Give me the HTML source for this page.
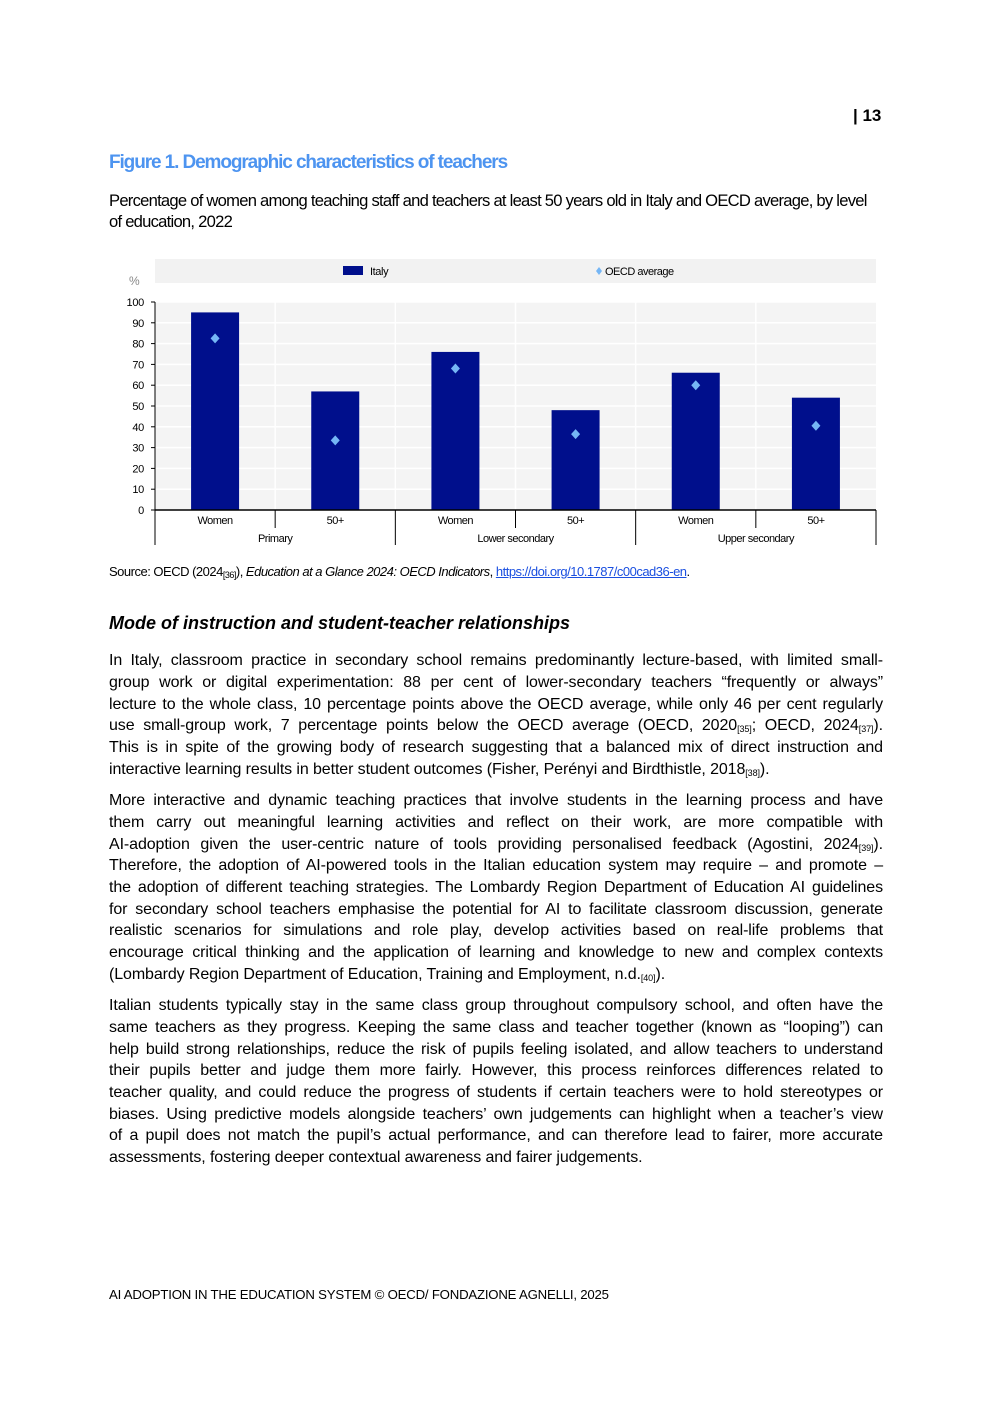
<!DOCTYPE html>
<html><head><meta charset="utf-8">
<style>
body{margin:0;background:#fff;}
#page{position:relative;width:992px;height:1403px;background:#fff;font-family:"Liberation Sans",Arial,sans-serif;color:#000;overflow:hidden;}
.abs{position:absolute;}
.ln{position:absolute;left:109px;width:774px;font-size:16px;line-height:20px;white-space:nowrap;letter-spacing:-0.1px;}
.j{text-align:justify;text-align-last:justify;white-space:normal;}
sub{font-size:9px;vertical-align:-2px;line-height:0;}
</style></head><body>
<div id="page">
<div class="abs" style="left:853px;top:106px;font-size:17px;font-weight:bold;">| 13</div>
<div class="abs" style="left:109px;top:152px;font-size:19px;font-weight:bold;color:#4d94f0;letter-spacing:-1.1px;">Figure 1. Demographic characteristics of teachers</div>
<div class="abs" style="left:109px;top:190px;width:790px;font-size:16.6px;line-height:21px;letter-spacing:-0.75px;">Percentage of women among teaching staff and teachers at least 50 years old in Italy and OECD average, by level<br>of education, 2022</div>

<svg class="abs" style="left:0;top:0" width="992" height="560" id="chart" font-family="Liberation Sans, Arial, sans-serif"></svg>

<div class="abs" style="left:109px;top:564px;font-size:13px;letter-spacing:-0.5px;">Source: OECD (2024<sub>[36]</sub>), <i>Education at a Glance 2024: OECD Indicators</i>, <a style="color:#1a4fe0;text-decoration:underline;">https://doi.org/10.1787/c00cad36-en</a>.</div>
<div class="abs" style="left:109px;top:613px;font-size:18px;font-weight:bold;font-style:italic;letter-spacing:0px;">Mode of instruction and student-teacher relationships</div>

<div>
<div class="ln j" style="top:651px">In Italy, classroom practice in secondary school remains predominantly lecture-based, with limited small-</div>
<div class="ln j" style="top:673px">group work or digital experimentation: 88 per cent of lower-secondary teachers “frequently or always”</div>
<div class="ln j" style="top:695px">lecture to the whole class, 10 percentage points above the OECD average, while only 46 per cent regularly</div>
<div class="ln j" style="top:716px">use small-group work, 7 percentage points below the OECD average (OECD, 2020<sub>[35]</sub>; OECD, 2024<sub>[37]</sub>).</div>
<div class="ln j" style="top:738px">This is in spite of the growing body of research suggesting that a balanced mix of direct instruction and</div>
<div class="ln" style="top:760px">interactive learning results in better student outcomes (Fisher, Perényi and Birdthistle, 2018<sub>[38]</sub>).</div>
</div>
<div>
<div class="ln j" style="top:791px">More interactive and dynamic teaching practices that involve students in the learning process and have</div>
<div class="ln j" style="top:813px">them carry out meaningful learning activities and reflect on their work, are more compatible with</div>
<div class="ln j" style="top:835px">AI-adoption given the user-centric nature of tools providing personalised feedback (Agostini, 2024<sub>[39]</sub>).</div>
<div class="ln j" style="top:856px">Therefore, the adoption of AI-powered tools in the Italian education system may require – and promote –</div>
<div class="ln j" style="top:878px">the adoption of different teaching strategies. The Lombardy Region Department of Education AI guidelines</div>
<div class="ln j" style="top:900px">for secondary school teachers emphasise the potential for AI to facilitate classroom discussion, generate</div>
<div class="ln j" style="top:921px">realistic scenarios for simulations and role play, develop activities based on real-life problems that</div>
<div class="ln j" style="top:943px">encourage critical thinking and the application of learning and knowledge to new and complex contexts</div>
<div class="ln" style="top:965px">(Lombardy Region Department of Education, Training and Employment, n.d.<sub>[40]</sub>).</div>
</div>
<div>
<div class="ln j" style="top:996px">Italian students typically stay in the same class group throughout compulsory school, and often have the</div>
<div class="ln j" style="top:1018px">same teachers as they progress. Keeping the same class and teacher together (known as “looping”) can</div>
<div class="ln j" style="top:1040px">help build strong relationships, reduce the risk of pupils feeling isolated, and allow teachers to understand</div>
<div class="ln j" style="top:1061px">their pupils better and judge them more fairly. However, this process reinforces differences related to</div>
<div class="ln j" style="top:1083px">teacher quality, and could reduce the progress of students if certain teachers were to hold stereotypes or</div>
<div class="ln j" style="top:1105px">biases. Using predictive models alongside teachers’ own judgements can highlight when a teacher’s view</div>
<div class="ln j" style="top:1126px">of a pupil does not match the pupil’s actual performance, and can therefore lead to fairer, more accurate</div>
<div class="ln" style="top:1148px">assessments, fostering deeper contextual awareness and fairer judgements.</div>
</div>
<div class="abs" style="left:109px;top:1287px;font-size:13.2px;letter-spacing:-0.2px;">AI ADOPTION IN THE EDUCATION SYSTEM © OECD/ FONDAZIONE AGNELLI, 2025</div>
</div>
<script>
const categories=["Women","50+","Women","50+","Women","50+"];
const groups=["Primary","Lower secondary","Upper secondary"];
const italyValues=[95,57,76,48,66,54];
const oecdValues=[82.5,33.5,68,36.5,60,40.5];
const yTicks=[0,10,20,30,40,50,60,70,80,90,100];

const svg=document.getElementById('chart');
const NS='http://www.w3.org/2000/svg';
const L=155,R=876,T=302,B=510;
const y=v=>B-(v/100)*(B-T);
const cw=(R-L)/categories.length;
const x=i=>L+cw*(i+0.5);
function mk(tag,attrs){const e=document.createElementNS(NS,tag);for(const k in attrs)e.setAttribute(k,attrs[k]);svg.appendChild(e);return e;}

let e;
e=mk('rect',{x:155,y:259,width:721,height:24,fill:'#f2f2f2'});


e=mk('rect',{x:343,y:266,width:20,height:9,fill:'#000f8c'});


e=mk('text',{x:370,y:275,'font-size':11,fill:'#000','letter-spacing':'-0.4'});e.textContent='Italy';


e=mk('path',{d:'M599,267 L602,271 L599,275 L596,271 Z',fill:'#75b6f5'});


e=mk('text',{x:605,y:275,'font-size':11,fill:'#000','letter-spacing':'-0.5'});e.textContent='OECD average';


e=mk('text',{x:129,y:285,'font-size':12,fill:'#888'});e.textContent='%';



e=mk('rect',{x:L,y:T,width:R-L,height:B-T,fill:'#f4f4f4'});


yTicks.forEach(t=>{
  if(t>0){e=mk('line',{x1:L,x2:R,y1:y(t),y2:y(t),stroke:'#fff','stroke-width':1.5});
  
  }
  e=mk('line',{x1:L-4,x2:L,y1:y(t),y2:y(t),stroke:'#000'});
  
  
  e=mk('text',{x:L-11,y:y(t)+4,'font-size':11,'text-anchor':'end',fill:'#000','letter-spacing':'-0.3'});e.textContent=t;
  
  
});
for(let i=1;i<categories.length;i++){
  e=mk('line',{x1:L+cw*i,x2:L+cw*i,y1:T,y2:B,stroke:'#fff','stroke-width':1.5});
  
  
}
italyValues.forEach((v,i)=>{
  e=mk('rect',{x:x(i)-24,y:y(v),width:48,height:B-y(v),fill:'#000f8c'});
  
  
});
oecdValues.forEach((v,i)=>{
  const cx=x(i),cy=y(v);
  e=mk('path',{d:`M${cx},${cy-5} L${cx+4.5},${cy} L${cx},${cy+5} L${cx-4.5},${cy} Z`,fill:'#75b6f5'});
  
  
});
e=mk('line',{x1:L,x2:L,y1:T,y2:B,stroke:'#000'});


e=mk('line',{x1:L,x2:R,y1:B,y2:B,stroke:'#000','stroke-width':1.5});


for(let i=0;i<=categories.length;i++){
  const gb=i%2===0;
  e=mk('line',{x1:L+cw*i,x2:L+cw*i,y1:B,y2:gb?545:528,stroke:'#000'});
  
  
}
categories.forEach((c,i)=>{
  e=mk('text',{x:x(i),y:524,'font-size':11,'text-anchor':'middle',fill:'#000','letter-spacing':'-0.5'});e.textContent=c;
  
  
});
groups.forEach((g,i)=>{
  e=mk('text',{x:L+cw*(2*i+1),y:542,'font-size':11,'text-anchor':'middle',fill:'#000','letter-spacing':'-0.5'});e.textContent=g;
  
  
});
</script>
</body></html>
